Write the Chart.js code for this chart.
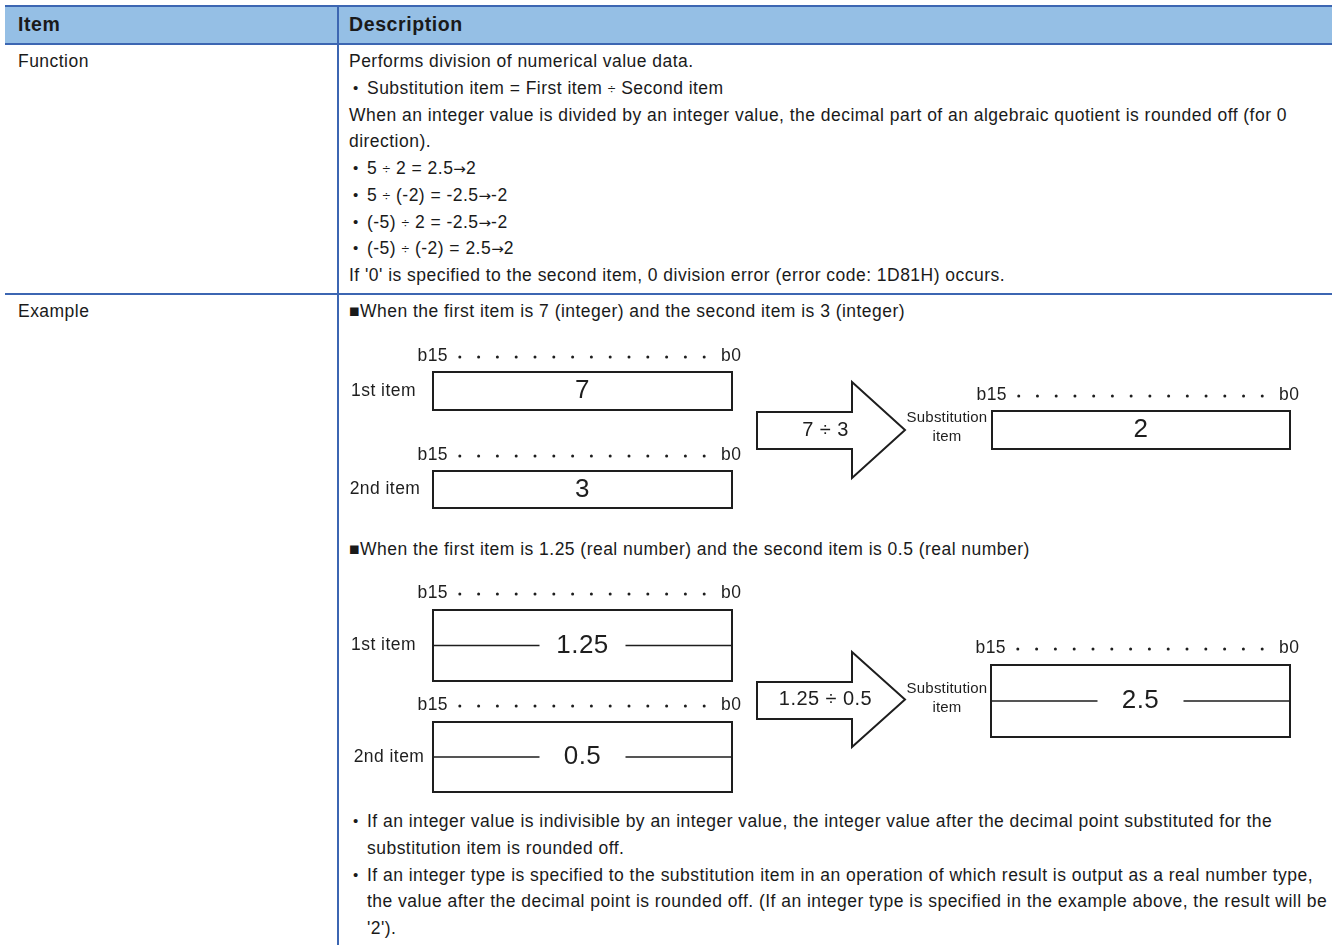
<!DOCTYPE html>
<html>
<head>
<meta charset="utf-8">
<script src="https://cdn.jsdelivr.net/npm/chart.js@4.4.1/dist/chart.umd.min.js"></script>
<style>
  body { margin: 0; width: 1332px; height: 945px; overflow: hidden; background: #fff;
         font-family: "Liberation Sans", Arial, sans-serif; color: #1a1a1a; font-size: 17.5px;
         letter-spacing: 0.47px; }
  .abs { position: absolute; }
  #head { left: 5px; top: 5px; width: 1327px; height: 36px; background: #95bfe5;
          border-top: 2px solid #3c66b2; border-bottom: 2px solid #3c66b2; }
  .hd { font-weight: bold; font-size: 19.5px; line-height: 36px; top: 6px; letter-spacing: 0.6px; }
  #vline { left: 337px; top: 5px; width: 2px; height: 940px; background: #3c66b2; }
  #hline { left: 5px; top: 293px; width: 1327px; height: 2px; background: #3c66b2; }
  .txt { line-height: 26.75px; white-space: nowrap; }
  .txt > div { height: 26.75px; }
  .txt > div.li2 { height: 53.5px; }
  .txt > div.li3 { height: 80.25px; }
  .li { position: relative; padding-left: 18px; }
  .li::before { content: "\2022"; position: absolute; left: 4px; font-size: 15px; }
  .dv { font-size: 14px; line-height: 0; }
  .ar { font-family: "DejaVu Sans", sans-serif; font-size: 15px; letter-spacing: 0; line-height: 0; }
  canvas { position: absolute; left: 339px; }
</style>
</head>
<body>
<div id="head" class="abs"></div>
<div class="abs hd" style="left:18px">Item</div>
<div class="abs hd" style="left:349px">Description</div>
<div id="vline" class="abs"></div>
<div id="hline" class="abs"></div>

<div class="abs txt" style="left:18px; top:48px">Function</div>
<div class="abs txt" style="left:349px; top:48px">
  <div>Performs division of numerical value data.</div>
  <div class="li">Substitution item = First item <span class="dv">÷</span> Second item</div>
  <div>When an integer value is divided by an integer value, the decimal part of an algebraic quotient is rounded off (for 0</div>
  <div>direction).</div>
  <div class="li">5 <span class="dv">÷</span> 2 = 2.5<span class="ar">→</span>2</div>
  <div class="li">5 <span class="dv">÷</span> (-2) = -2.5<span class="ar">→</span>-2</div>
  <div class="li">(-5) <span class="dv">÷</span> 2 = -2.5<span class="ar">→</span>-2</div>
  <div class="li">(-5) <span class="dv">÷</span> (-2) = 2.5<span class="ar">→</span>2</div>
  <div>If '0' is specified to the second item, 0 division error (error code: 1D81H) occurs.</div>
</div>

<div class="abs txt" style="left:18px; top:298px">Example</div>
<div class="abs txt" style="left:349px; top:298px">■When the first item is 7 (integer) and the second item is 3 (integer)</div>
<div class="abs txt" style="left:349px; top:536px">■When the first item is 1.25 (real number) and the second item is 0.5 (real number)</div>
<div class="abs txt" style="left:349px; top:808px">
  <div class="li li2">If an integer value is indivisible by an integer value, the integer value after the decimal point substituted for the<br>substitution item is rounded off.</div>
  <div class="li li3">If an integer type is specified to the substitution item in an operation of which result is output as a real number type,<br>the value after the decimal point is rounded off. (If an integer type is specified in the example above, the result will be<br>'2').</div>
</div>

<canvas id="ex1" width="993" height="190" style="top:330px"></canvas>
<canvas id="ex2" width="993" height="230" style="top:570px"></canvas>

<script>
// values shown in the two examples
const firstValues = [7, 1.25];
const secondValues = [3, 0.5];
const resultValues = [2, 2.5];
const valueTypes = ["integer", "real"];
const registerLabels = ["1st item", "2nd item"];
const highBit = "b15";
const lowBit = "b0";
const dotBits = [14, 13, 12, 11, 10, 9, 8, 7, 6, 5, 4, 3, 2, 1];

const FONT = '"Liberation Sans", Arial, sans-serif';
const INK = "#1e1e1e";

// layout of each example canvas (pixel units of the hidden scales)
const layouts = [
  {
    h: 190,
    regs: [
      { l: 94, r: 393, t: 42, b: 80, bitY: 26, label: 44.5 },
      { l: 94, r: 393, t: 141, b: 178, bitY: 125, label: 46 }
    ],
    res: { l: 653, r: 951, t: 81, b: 119, bitY: 65 },
    arrow: { x0: 418, xh: 513, tip: 566, st: 82, sb: 119, ht: 52, hb: 148 }
  },
  {
    h: 230,
    regs: [
      { l: 94, r: 393, t: 40, b: 111, bitY: 23, label: 44.5 },
      { l: 94, r: 393, t: 152, b: 222, bitY: 135, label: 50 }
    ],
    res: { l: 652, r: 951, t: 95, b: 167, bitY: 78 },
    arrow: { x0: 418, xh: 513, tip: 566, st: 112, sb: 149, ht: 82, hb: 177 }
  }
];

function bitX(reg, bit) {
  const x15 = reg.l + 8, x0 = reg.r - 9;
  return x15 + (15 - bit) * (x0 - x15) / 15;
}

function dotsFor(lay) {
  const pts = [];
  [...lay.regs, lay.res].forEach(reg => {
    dotBits.forEach(b => pts.push({ x: bitX(reg, b), y: reg.bitY + 1 }));
  });
  return pts;
}

const diagramPlugin = {
  id: "diagram",
  afterDatasetsDraw(chart) {
    const { ctx, scales: { x, y } } = chart;
    const k = chart.options.plugins.diagram.index;
    const lay = layouts[k];
    const real = valueTypes[k] === "real";
    const px = v => x.getPixelForValue(v);
    const py = v => y.getPixelForValue(v);

    ctx.save();
    ctx.fillStyle = INK;
    ctx.strokeStyle = INK;
    ctx.textBaseline = "middle";

    function text(s, cx, cy, size, align, spacing) {
      ctx.font = size + "px " + FONT;
      ctx.letterSpacing = (spacing == null ? 0.45 : spacing) + "px";
      ctx.textAlign = align || "center";
      ctx.fillText(s, px(cx), py(cy));
    }

    function register(reg, value) {
      ctx.lineWidth = 2;
      ctx.strokeRect(px(reg.l), py(reg.t), px(reg.r) - px(reg.l), py(reg.b) - py(reg.t));
      const cx = (reg.l + reg.r) / 2, cy = (reg.t + reg.b) / 2;
      text(String(value), cx, cy, 26);
      if (real) {
        ctx.lineWidth = 1.6;
        ctx.beginPath();
        ctx.moveTo(px(reg.l), py(cy)); ctx.lineTo(px(cx - 43), py(cy));
        ctx.moveTo(px(cx + 43), py(cy)); ctx.lineTo(px(reg.r), py(cy));
        ctx.stroke();
      }
      text(highBit, reg.l + 15, reg.bitY, 17.5, "right");
      text(lowBit, reg.r - 11, reg.bitY, 17.5, "left");
    }

    const vals = [firstValues[k], secondValues[k]];
    lay.regs.forEach((reg, i) => {
      register(reg, vals[i]);
      text(registerLabels[i], reg.label, (reg.t + reg.b) / 2, 17.5);
    });
    register(lay.res, resultValues[k]);

    // operation arrow
    const a = lay.arrow, mid = (a.ht + a.hb) / 2;
    ctx.lineWidth = 2;
    ctx.fillStyle = "#fff";
    ctx.beginPath();
    ctx.moveTo(px(a.x0), py(a.st));
    ctx.lineTo(px(a.xh), py(a.st));
    ctx.lineTo(px(a.xh), py(a.ht));
    ctx.lineTo(px(a.tip), py(mid));
    ctx.lineTo(px(a.xh), py(a.hb));
    ctx.lineTo(px(a.xh), py(a.sb));
    ctx.lineTo(px(a.x0), py(a.sb));
    ctx.closePath();
    ctx.fill();
    ctx.stroke();
    ctx.fillStyle = INK;
    text(firstValues[k] + " ÷ " + secondValues[k], 486.5, mid, 20);

    const rm = (lay.res.t + lay.res.b) / 2;
    text("Substitution", 608, rm - 12, 15, "center", 0.2);
    text("item", 608, rm + 7, 15, "center", 0.2);
    ctx.restore();
  }
};

function makeDiagram(id, index) {
  const lay = layouts[index];
  return new Chart(document.getElementById(id), {
    type: "scatter",
    data: {
      datasets: [{
        data: dotsFor(lay),
        pointRadius: 1.5,
        pointBackgroundColor: INK,
        pointBorderWidth: 0
      }]
    },
    options: {
      responsive: false,
      animation: false,
      devicePixelRatio: 1,
      layout: { padding: 0, autoPadding: false },
      scales: {
        x: { type: "linear", min: 0, max: 993, display: false },
        y: { type: "linear", min: 0, max: lay.h, reverse: true, display: false }
      },
      plugins: {
        legend: { display: false },
        tooltip: { enabled: false },
        diagram: { index }
      }
    },
    plugins: [diagramPlugin]
  });
}

makeDiagram("ex1", 0);
makeDiagram("ex2", 1);
</script>
</body>
</html>
